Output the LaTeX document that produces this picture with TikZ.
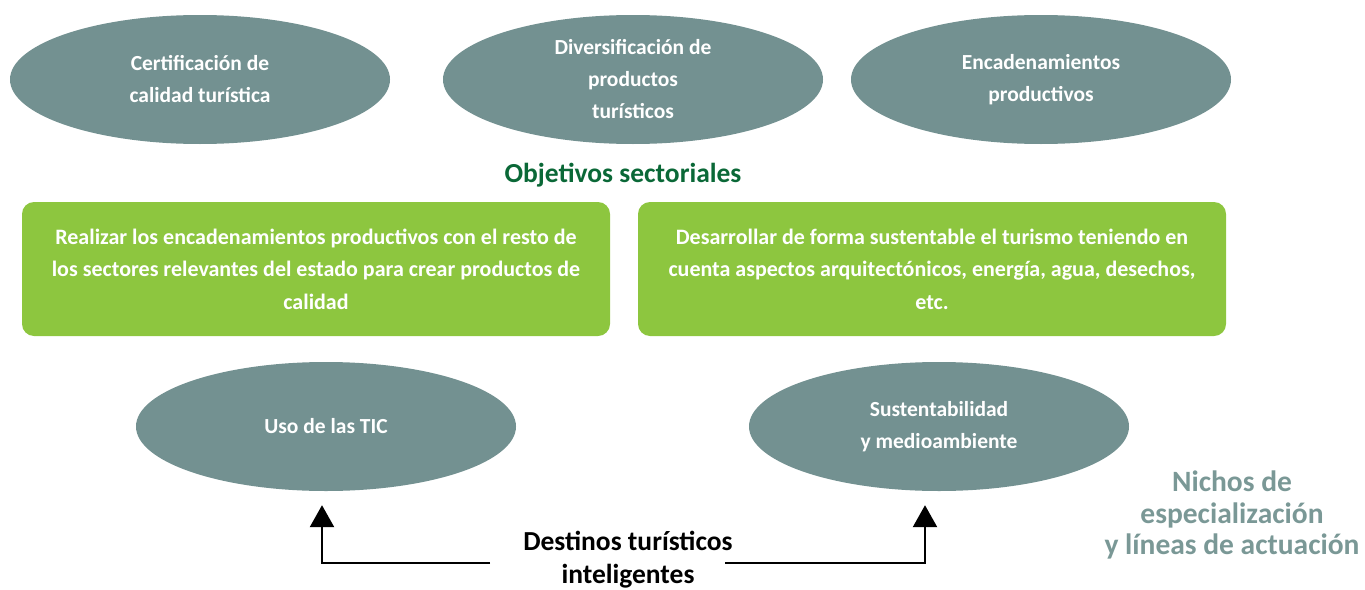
\documentclass[tikz,border=0pt]{standalone}
\usepackage{fontspec}
\setmainfont{Carlito}
\usepackage{tikz}
\usetikzlibrary{arrows.meta,shapes.geometric}

\definecolor{nicho}{RGB}{115,145,145}
\definecolor{nichotxt}{RGB}{122,152,150}
\definecolor{objgreen}{RGB}{141,198,63}
\definecolor{objtitle}{RGB}{10,104,55}

\begin{document}
\begin{tikzpicture}[x=1pt,y=-1pt]
	\useasboundingbox (0,0) rectangle (1365,589);

	\begin{scope}[every node/.style={ellipse,fill=nicho,text=white,align=center,
				minimum width=380pt,minimum height=129pt,inner sep=0pt,
				font=\fontsize{21.5}{32}\selectfont\bfseries}]
		% upper row
		\node (cert) at (200,79.5) {Certificación de\\calidad turística};
		\node (div) at (633,79.5) {Diversificación de\\productos\\turísticos};
		\node (enc) at (1041,79.5) {Encadenamientos\\productivos};
		% lower row
		\node (tic) at (326,426.5) {Uso de las TIC};
		\node (sus) at (939,426.5) {Sustentabilidad\\y medioambiente};
	\end{scope}

	\node[text=objtitle,font=\fontsize{27.5}{30}\selectfont\bfseries] (obj) at (623,175) {Objetivos sectoriales};

	\begin{scope}[every node/.style={rectangle,rounded corners=12pt,fill=objgreen,text=white,
				align=center,minimum width=588pt,minimum height=134pt,inner sep=0pt,
				font=\fontsize{22}{32.5}\selectfont\bfseries}]
		\node (obj1) at (316,269) {Realizar los encadenamientos productivos con el resto de\\los sectores relevantes del estado para crear productos de\\calidad};
		\node (obj2) at (932,269) {Desarrollar de forma sustentable el turismo teniendo en\\cuenta aspectos arquitectónicos, energía, agua, desechos,\\etc.};
	\end{scope}

	\node[align=center,font=\fontsize{27.5}{33}\selectfont\bfseries] (dti) at (628,560) {Destinos turísticos\\inteligentes};
	\node[align=center,text=nichotxt,font=\fontsize{29.5}{31.5}\selectfont\bfseries] (nich) at (1232,515) {Nichos de\\especialización\\y líneas de actuación};

	\coordinate (dl) at (490,563);
	\coordinate (dr) at (725,563);

	\begin{scope}[>={Triangle[width=24pt,length=22pt]},line width=2.5pt]
		\draw[->,shorten >=14pt] (dl) -| ([xshift=-4pt]tic.south);
		\draw[->,shorten >=14pt] (dr) -| ([xshift=-14pt]sus.south);
	\end{scope}
\end{tikzpicture}
\end{document}
